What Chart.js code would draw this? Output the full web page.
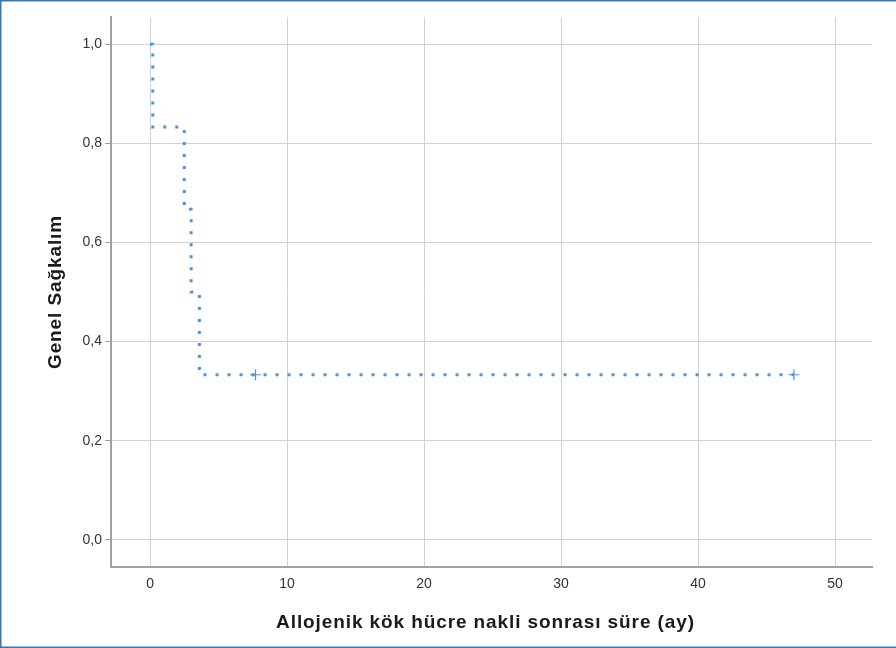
<!DOCTYPE html>
<html>
<head>
<meta charset="utf-8">
<script src="https://cdn.jsdelivr.net/npm/chart.js@4/dist/chart.umd.min.js"></script>
<style>
  html, body { margin: 0; padding: 0; background: #fff; }
  #wrap { width: 896px; height: 648px; }
</style>
</head>
<body>
<div id="wrap"><canvas id="kmChart" width="896" height="648"></canvas></div>
<script>
// Kaplan-Meier survival steps (time in months, survival fraction)
const kmTimes = [0, 0.2, 2.5, 3.0, 3.6, 47.0];
const kmSurvival = [1.0, 0.833, 0.667, 0.5, 0.333, 0.333];

// censored observations
const censorTimes = [7.7, 47.0];
const censorSurvival = [0.333, 0.333];

// axis ticks
const xTicks = [0, 10, 20, 30, 40, 50];
const xTickLabels = ['0', '10', '20', '30', '40', '50'];
const yTicks = [0, 0.2, 0.4, 0.6, 0.8, 1.0];
const yTickLabels = ['0,0', '0,2', '0,4', '0,6', '0,8', '1,0'];

const xTitle = 'Allojenik kök hücre nakli sonrası süre (ay)';
const yTitle = 'Genel Sağkalım';

const lineColor = '#4d92dc';

// outer frame of the picture (top, left, bottom edges)
const frameBorder = {
    id: 'frameBorder',
    afterDraw(chart) {
        const ctx = chart.ctx;
        const w = chart.width;
        const h = chart.height;
        ctx.save();
        ctx.fillStyle = '#3a77b0';
        ctx.fillRect(0, 0, w, 1.5);
        ctx.fillRect(0, 0, 1.5, h);
        ctx.fillRect(0, h - 1.5, w, 1.5);
        ctx.restore();
    }
};

// axis titles, drawn a little wider-spaced like the original
const axisTitles = {
    id: 'axisTitles',
    afterDraw(chart) {
        const ctx = chart.ctx;
        const area = chart.chartArea;
        ctx.save();
        ctx.font = 'bold 19px "Liberation Sans", Arial, sans-serif';
        ctx.letterSpacing = '0.9px';
        ctx.fillStyle = '#1a1a1a';
        ctx.textAlign = 'center';
        ctx.textBaseline = 'alphabetic';
        ctx.fillText(xTitle, (area.left + area.right) / 2 - 6, chart.height - 20);
        ctx.translate(61, (area.top + area.bottom) / 2);
        ctx.rotate(-Math.PI / 2);
        ctx.fillText(yTitle, 0, 0);
        ctx.restore();
    }
};

const tickFont = { family: '"Liberation Sans", Arial, sans-serif', size: 14 };

new Chart(document.getElementById('kmChart').getContext('2d'), {
    type: 'scatter',
    data: {
        datasets: [
            {
                data: kmTimes.map((t, i) => ({ x: t, y: kmSurvival[i] })),
                showLine: true,
                stepped: true,
                borderColor: lineColor,
                borderWidth: 3,
                borderDash: [3, 9],
                borderCapStyle: 'butt',
                pointRadius: 0,
                fill: false
            },
            {
                data: censorTimes.map((t, i) => ({ x: t, y: censorSurvival[i] })),
                showLine: false,
                pointStyle: 'cross',
                pointRadius: 5.5,
                borderColor: lineColor,
                backgroundColor: lineColor,
                pointBorderWidth: 1.2
            }
        ]
    },
    options: {
        responsive: false,
        animation: false,
        devicePixelRatio: 1,
        layout: { padding: { top: 17, right: 24, left: 0, bottom: 0 } },
        plugins: {
            legend: { display: false },
            tooltip: { enabled: false }
        },
        scales: {
            x: {
                type: 'linear',
                min: -2.85,
                max: 52.7,
                afterBuildTicks: (scale) => {
                    scale.ticks = xTicks.map(v => ({ value: v }));
                },
                afterFit: (scale) => { scale.height = 81; },
                ticks: {
                    font: tickFont,
                    color: '#333',
                    padding: 9,
                    callback: (value, index) => xTickLabels[index]
                },
                grid: { color: '#d2d2d2', lineWidth: 1, drawTicks: false },
                border: { color: '#a0a0a0', width: 2 }
            },
            y: {
                type: 'linear',
                min: -0.055,
                max: 1.055,
                afterBuildTicks: (scale) => {
                    scale.ticks = yTicks.map(v => ({ value: v }));
                },
                afterFit: (scale) => { scale.width = 111; },
                ticks: {
                    font: tickFont,
                    color: '#333',
                    padding: 3,
                    callback: (value, index) => yTickLabels[index]
                },
                grid: { color: '#d2d2d2', lineWidth: 1, tickLength: 6, tickColor: '#a0a0a0' },
                border: { color: '#a0a0a0', width: 2 }
            }
        }
    },
    plugins: [frameBorder, axisTitles]
});
</script>
</body>
</html>
